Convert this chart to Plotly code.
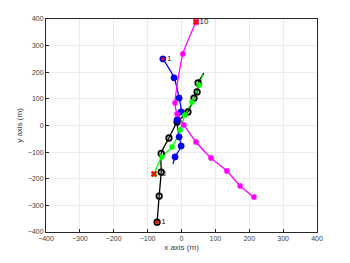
import plotly.graph_objects as go

# Data (meters)
mag_x = [214, 173, 134, 87, 43, 7, -13, -19, 4, 43]
mag_y = [-269, -227, -171, -122, -62, 2, 43, 85, 269, 389]

blue_x = [-55, -22, -7, -1, -13, -7, -1, -19]
blue_y = [250, 179, 103, 51, 21, -43, -77, -118]
blue_tail_x = [-25]
blue_tail_y = [-145]

black_x = [-72, -66, -60, -60, -37, -13, 19, 37, 46, 49]
black_y = [-363, -265, -175, -105, -47, 13, 51, 103, 126, 160]
black_tail_x = [66]
black_tail_y = [197]

green_x = [-81, -58, -28, -4, 10, 31, 52]
green_y = [-182, -118, -81, -17, 39, 88, 152]
green_tail_x = [63]
green_tail_y = [190]

label_text = ["1", "1", "3", "10"]

ticks = [-400, -300, -200, -100, 0, 100, 200, 300, 400]

fig = go.Figure()

# lines
fig.add_trace(go.Scatter(x=black_x + black_tail_x, y=black_y + black_tail_y, mode="lines",
                         line=dict(color="black", width=1.3, shape="spline", smoothing=0.6)))
fig.add_trace(go.Scatter(x=green_x + green_tail_x, y=green_y + green_tail_y, mode="lines",
                         line=dict(color="#00ff00", width=1.3, shape="spline", smoothing=0.6)))
fig.add_trace(go.Scatter(x=blue_x + blue_tail_x, y=blue_y + blue_tail_y, mode="lines",
                         line=dict(color="#0000ff", width=1.3, shape="spline", smoothing=0.8)))
fig.add_trace(go.Scatter(x=mag_x, y=mag_y, mode="lines",
                         line=dict(color="#ff00ff", width=1.3, shape="spline", smoothing=0.6)))

# markers
fig.add_trace(go.Scatter(x=black_x, y=black_y, mode="markers",
                         marker=dict(symbol="circle-open", size=5.5, color="black",
                                     line=dict(color="black", width=1.8))))
fig.add_trace(go.Scatter(x=blue_x, y=blue_y, mode="markers",
                         marker=dict(symbol="circle", size=6, color="#0000ff",
                                     line=dict(color="#0000cc", width=1))))
fig.add_trace(go.Scatter(x=green_x, y=green_y, mode="markers",
                         marker=dict(symbol="asterisk-open", size=5, color="#00ff00",
                                     line=dict(color="#00ff00", width=1.5))))
fig.add_trace(go.Scatter(x=mag_x, y=mag_y, mode="markers",
                         marker=dict(symbol="asterisk-open", size=5, color="#ff00ff",
                                     line=dict(color="#ff00ff", width=1.5))))

# start/end markers
fig.add_trace(go.Scatter(x=[blue_x[0], black_x[0]], y=[blue_y[0], black_y[0]], mode="markers",
                         marker=dict(symbol="circle", size=3.5, color="red",
                                     line=dict(color="red", width=0))))
fig.add_trace(go.Scatter(x=[green_x[0], mag_x[-1]], y=[green_y[0], mag_y[-1]], mode="markers",
                         marker=dict(symbol="x-thin-open", size=5, color="red",
                                     line=dict(color="red", width=2))))

# labels
fig.add_trace(go.Scatter(x=[blue_x[0] + 12, black_x[0] + 12, green_x[0] + 22, mag_x[-1] + 10],
                         y=[blue_y[0], black_y[0], green_y[0], mag_y[-1]],
                         mode="text", text=label_text,
                         textposition="middle right",
                         textfont=dict(size=8, color="#222222", family="Liberation Sans")))

axis_common = dict(range=[-400, 400], tickvals=ticks, showgrid=True, gridcolor="#ebebeb",
                   gridwidth=1, zeroline=False, showline=True, linecolor="#262626", linewidth=1,
                   mirror=True, ticks="inside", ticklen=3, tickcolor="#262626", automargin=False,
                   tickfont=dict(size=7, color="#404040", family="Liberation Sans"))

fig.update_layout(
    width=334, height=247,
    margin=dict(l=38, r=25, t=11, b=23),
    paper_bgcolor="white", plot_bgcolor="white",
    showlegend=False,
    xaxis=dict(**axis_common, title=dict(text="x axis (m)", standoff=2,
                                         font=dict(size=8, color="#404040", family="Liberation Sans"))),
    yaxis=dict(**axis_common, title=dict(text="y axis (m)", standoff=4,
                                         font=dict(size=8, color="#404040", family="Liberation Sans"))),
)

fig.write_html("out.html")
